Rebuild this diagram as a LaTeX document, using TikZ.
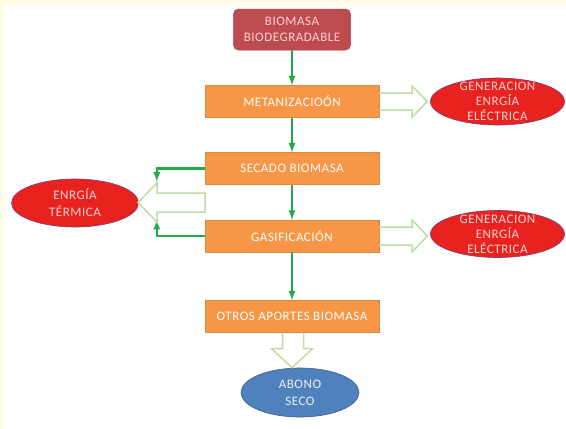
\documentclass[tikz,border=0pt]{standalone}
\usepackage{fontspec}
\usetikzlibrary{shapes.geometric}

\newfontfamily\diagfont[LetterSpace=4]{Carlito}

\definecolor{crema}{HTML}{FFFCE6}
\definecolor{naranja}{HTML}{F79646}
\definecolor{granate}{HTML}{BE4B50}
\definecolor{rojo}{HTML}{E8221E}
\definecolor{azul}{HTML}{4F81BD}
\definecolor{verde}{HTML}{22AA48}
\definecolor{verdeclaro}{HTML}{BEDDA0}
\definecolor{rosa}{HTML}{FFD2D2}
\definecolor{bordeelipse}{HTML}{7A3C6E}

\begin{document}
\begin{tikzpicture}[x=1pt, y=-1pt, line width=1pt,
    proceso/.style={rectangle, fill=naranja, draw=naranja!90!black, line width=0.4pt,
        minimum width=174pt, minimum height=32pt, inner sep=0pt,
        text=white, font=\diagfont\fontsize{13}{15}\selectfont},
    elipse/.style={ellipse, fill=rojo, draw=bordeelipse, line width=0.6pt,
        minimum width=134pt, minimum height=47pt, inner sep=0pt},
    rotulo/.style={align=center, text=rosa, inner sep=0pt,
        font=\diagfont\fontsize{13}{15}\selectfont},
    flujo/.style={-latex, draw=verde, line width=2.2pt},
    hueco/.style={draw=verdeclaro, line width=1.5pt}
]
    \fill [crema] (0, 0) rectangle (566, 429);
    \fill [white] (4, 5) rectangle (566, 429);
    \useasboundingbox (0, 0) rectangle (566, 429);

    \node [rectangle, rounded corners=5pt, fill=granate, draw=granate!85!black, line width=0.5pt,
        minimum width=117pt, minimum height=41pt, inner sep=0pt, align=center, text=rosa,
        font=\diagfont\fontsize{13}{16}\selectfont] (bio) at (292, 29.5) {BIOMASA\\BIODEGRADABLE};

    \node [proceso] (meta) at (292, 101.5) {METANIZACIOÓN};
    \node [proceso] (secado) at (292, 168.5) {SECADO BIOMASA};
    \node [proceso] (gasif) at (292, 236) {GASIFICACIÓN};
    \node [proceso] (otros) at (292, 316.5) {OTROS APORTES BIOMASA};

    \node [elipse] (gen1) at (497.5, 101.5) {};
    \node [rotulo] (gen1txt) at (gen1) {GENERACION\\ENRGÍA\\ELÉCTRICA};
    \node [elipse] (gen2) at (497.5, 234) {};
    \node [rotulo] (gen2txt) at (gen2) {GENERACION\\ENRGÍA\\ELÉCTRICA};
    \node [elipse, minimum width=127pt, minimum height=48pt] (termica) at (75, 203) {};
    \node [rotulo, font=\diagfont\fontsize{13}{17}\selectfont] (termicatxt) at (termica) {ENRGÍA\\TÉRMICA};

    \node [ellipse, fill=azul, draw=azul!70!black, line width=0.6pt,
        minimum width=118pt, minimum height=49pt, inner sep=0pt] (abono) at (300, 392.5) {};
    \node [rotulo, text=white!88!azul, font=\diagfont\fontsize{13}{17}\selectfont] (abonotxt) at (abono) {ABONO\\SECO};

    % flujo principal
    \draw [flujo] (bio.south) -- (meta.north);
    \draw [flujo] (meta.south) -- (secado.north);
    \draw [flujo] (secado.south) -- (gasif.north);
    \draw [flujo] (gasif.south) -- (otros.north);

    % retorno de calor
    \draw [flujo] (secado.west) -- ++(-48, 0) -- ++(0, 13);
    \draw [flujo] (gasif.west) -- ++(-48, 0) -- ++(0, -16);

    % flechas huecas
    \draw [hueco] (meta.east) ++(0, -8.5) -- ++(33, 0) -- ++(0, -7) -- ++(15, 15.5)
        -- ++(-15, 15.5) -- ++(0, -7) -- ++(-33, 0);
    \draw [hueco] (gasif.east) ++(0, -9) -- ++(33, 0) -- ++(0, -7) -- ++(15, 16)
        -- ++(-15, 16) -- ++(0, -7) -- ++(-33, 0);
    \coordinate (calor) at (205, 202.5);
    \draw [hueco] (calor) ++(0, -9.5) -- ++(-48, 0) -- ++(0, -10) -- ++(-19, 19.5)
        -- ++(19, 19.5) -- ++(0, -10) -- ++(48, 0) -- cycle;
    \draw [hueco] (otros.south) ++(-9.5, 0) -- ++(0, 16) -- ++(-11, 0) -- ++(20.5, 19)
        -- ++(20.5, -19) -- ++(-9, 0) -- ++(0, -16);
\end{tikzpicture}
\end{document}
